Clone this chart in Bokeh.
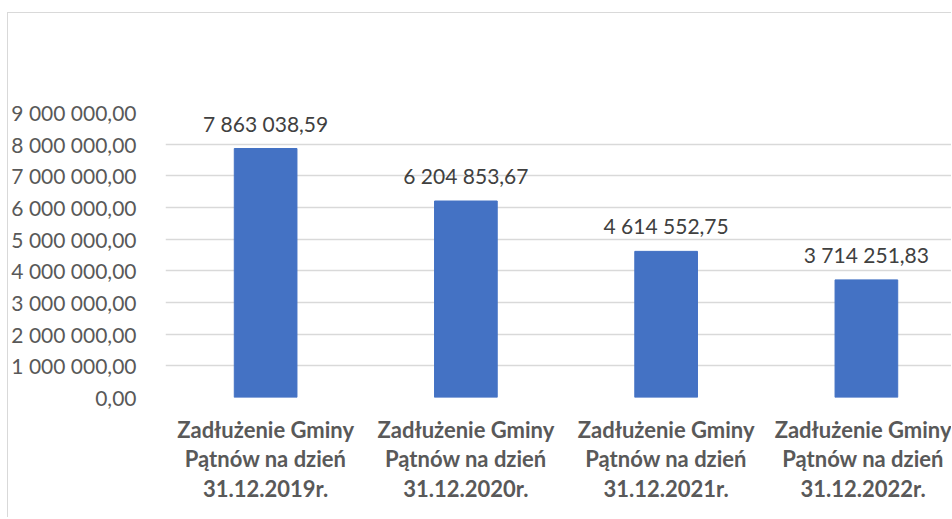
from bokeh.plotting import figure
from bokeh.models import ColumnDataSource, LabelSet, FixedTicker, Range1d
from bokeh.core.properties import value
from bokeh.embed import file_html
from bokeh.resources import INLINE

categories = [
    "Zadłużenie Gminy\nPątnów na dzień\n31.12.2019r.",
    "Zadłużenie Gminy\nPątnów na dzień\n31.12.2020r.",
    "Zadłużenie Gminy\nPątnów na dzień\n31.12.2021r.",
    "Zadłużenie Gminy\nPątnów na dzień\n31.12.2022r.",
]
values = [7863038.59, 6204853.67, 4614552.75, 3714251.83]
y_ticks = [0, 1000000, 2000000, 3000000, 4000000, 5000000, 6000000, 7000000, 8000000, 9000000]


def pl(v):
    s = f"{v:,.2f}"
    return s.replace(",", " ").replace(".", ",")


xs = list(range(len(categories)))
src = ColumnDataSource(dict(x=xs, top=values, label=[pl(v) for v in values]))

FONT = "Lato"
p = figure(width=944, height=505, output_backend="svg", toolbar_location=None,
           x_range=Range1d(-0.5, 3.43), y_range=Range1d(0, 9000000),
           min_border_left=152, min_border_right=0, min_border_top=99, min_border_bottom=121)
p.styles = {"margin-left": "7px", "margin-top": "12px",
            "border-left": "1px solid #D9D9D9", "border-top": "1px solid #D9D9D9"}
p.outline_line_color = None
p.background_fill_color = "white"
p.border_fill_color = "white"

p.vbar(x="x", top="top", width=0.313, source=src, fill_color="#4472C4", line_color="#4472C4")

labels = LabelSet(x="x", y="top", text="label", source=src, text_align="center",
                  text_baseline="alphabetic", y_offset=17, text_font=value(FONT),
                  text_font_size="21px", text_color="#404040")
p.add_layout(labels)

p.yaxis.ticker = FixedTicker(ticks=y_ticks)
p.yaxis.major_label_overrides = {t: pl(t) for t in y_ticks}
p.yaxis.axis_line_color = None
p.yaxis.major_tick_line_color = None
p.yaxis.minor_tick_line_color = None
p.yaxis.major_label_text_font = FONT
p.yaxis.major_label_text_font_size = "21px"
p.yaxis.major_label_text_color = "#595959"
p.yaxis.major_label_standoff = 23

p.xaxis.ticker = FixedTicker(ticks=xs)
p.xaxis.major_label_overrides = {i: c for i, c in zip(xs, categories)}
p.xaxis.axis_line_color = None
p.xaxis.major_tick_line_color = None
p.xaxis.minor_tick_line_color = None
p.xaxis.major_label_text_font = FONT
p.xaxis.major_label_text_font_style = "bold"
p.xaxis.major_label_text_font_size = "22px"
p.xaxis.major_label_text_color = "#595959"
p.xaxis.major_label_text_line_height = 1.1
p.xaxis.major_label_standoff = 12

p.xgrid.grid_line_color = None
p.ygrid.grid_line_color = "#D9D9D9"
p.ygrid.grid_line_width = 1.5

open("out.html", "w").write(file_html(p, INLINE))
